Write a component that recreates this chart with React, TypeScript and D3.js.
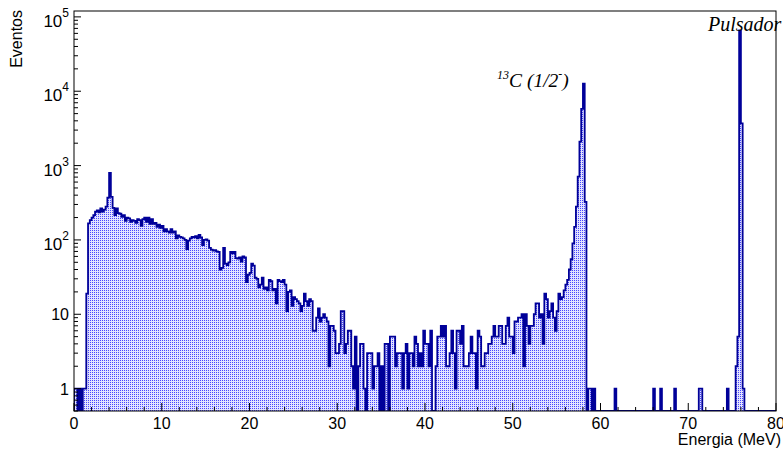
import React from "react";
import * as d3 from "d3";

// Histogram: 400 bins of 0.2 MeV from 0 to 80 MeV (counts per bin)
const binWidth = 0.2;
const counts0to10 = [
  1, 1, 0, 1, 0, 1, 1, 19, 167, 185,
  200, 215, 240, 250, 235, 265, 240, 255, 280, 370,
  800, 380, 270, 215, 265, 230, 225, 205, 215, 180,
  200, 195, 175, 185, 180, 170, 190, 185, 155, 190,
  200, 175, 200, 165, 190, 165, 170, 150, 160, 145,
];
const counts10to20 = [
  155, 130, 140, 130, 125, 140, 125, 130, 105, 115,
  110, 108, 105, 100, 75, 98, 105, 110, 108, 112,
  105, 117, 108, 85, 100, 102, 98, 78, 74, 72,
  73, 70, 69, 40, 42, 78, 48, 46, 50, 69,
  66, 69, 57, 56, 58, 51, 60, 58, 27, 34,
];
const counts20to30 = [
  36, 48, 45, 31, 30, 23, 25, 31, 22, 23,
  21, 29, 28, 21, 22, 14, 29, 28, 27, 29,
  25, 11, 20, 21, 13, 17, 16, 15, 14, 11,
  13, 19, 15, 13, 16, 15, 6, 6, 9, 12,
  8, 9, 10, 9, 8, 2, 7, 7, 6, 3,
];
const counts30to40 = [
  3, 4, 11, 11, 3, 4, 6, 6, 2, 1,
  5, 0, 2, 4, 4, 1, 0, 3, 3, 3,
  1, 2, 2, 3, 0, 2, 0, 4, 4, 0,
  5, 5, 5, 2, 3, 3, 3, 1, 3, 4,
  1, 3, 3, 2, 5, 4, 2, 3, 2, 6,
];
const counts40to50 = [
  4, 4, 2, 6, 0, 0, 2, 5, 5, 7,
  5, 7, 2, 2, 3, 6, 3, 1, 6, 6,
  4, 7, 2, 2, 2, 3, 5, 3, 3, 1,
  6, 5, 2, 2, 3, 3, 4, 4, 5, 7,
  5, 5, 7, 7, 4, 4, 7, 9, 5, 5,
];
const counts50to60 = [
  3, 8, 8, 9, 9, 10, 2, 10, 7, 4,
  7, 7, 10, 14, 14, 9, 10, 4, 19, 16,
  9, 11, 14, 9, 6, 11, 19, 16, 17, 21,
  25, 29, 40, 55, 90, 150, 280, 710, 2100, 5800,
  12600, 325, 0, 1, 1, 0, 1, 0, 0, 0,
];
const counts60to70 = [
  0, 0, 0, 0, 0, 0, 0, 0, 1, 0,
  0, 0, 0, 0, 0, 0, 0, 0, 0, 0,
  0, 0, 0, 0, 0, 0, 0, 0, 0, 0,
  1, 0, 0, 0, 1, 0, 0, 0, 0, 0,
  0, 0, 1, 0, 0, 0, 0, 0, 0, 0,
];
const counts70to80 = [
  0, 0, 0, 0, 0, 0, 1, 1, 0, 0,
  0, 0, 0, 0, 0, 0, 0, 0, 0, 0,
  0, 0, 1, 0, 0, 0, 0, 2, 5, 66000,
  3700, 1, 0, 0, 0, 0, 0, 0, 0, 0,
  0, 0, 0, 0, 0, 0, 0, 0, 0, 0,
];
const counts = [
  ...counts0to10, ...counts10to20, ...counts20to30, ...counts30to40,
  ...counts40to50, ...counts50to60, ...counts60to70, ...counts70to80,
];

const xTickValues = [0, 10, 20, 30, 40, 50, 60, 70, 80];
const yDecades = [0, 1, 2, 3, 4, 5];

const W = 783;
const H = 449;
const M = { left: 74, right: 776, top: 11, bottom: 411 };
const YMIN = 0.5;
const YMAX = 1.2e5;

export default function App() {
  const x = d3.scaleLinear().domain([0, 80]).range([M.left, M.right]);
  const y = d3.scaleLog().domain([YMIN, YMAX]).range([M.bottom, M.top]).clamp(true);
  const yv = (v: number) => y(v <= 0 ? YMIN : v);

  const pts = counts.map((c, i) => ({ e: i * binWidth, c }));
  pts.push({ e: counts.length * binWidth, c: counts[counts.length - 1] });

  const area = d3
    .area<{ e: number; c: number }>()
    .x((d) => x(d.e))
    .y0(M.bottom)
    .y1((d) => yv(d.c))
    .curve(d3.curveStepAfter);

  const line = d3
    .line<{ e: number; c: number }>()
    .x((d) => x(d.e))
    .y((d) => yv(d.c))
    .curve(d3.curveStepAfter);

  const outline =
    `M${x(0)},${M.bottom}L` + (line(pts) || "").slice(1) + `L${x(80)},${M.bottom}`;

  const minorX = d3.range(0, 81, 2).filter((v) => v % 10 !== 0);
  const minorY: number[] = [];
  for (let d = -1; d <= 5; d++) {
    for (let k = 2; k <= 9; k++) {
      const v = k * Math.pow(10, d);
      if (v >= YMIN && v <= YMAX) minorY.push(v);
    }
  }

  const font = "'Liberation Sans', Arial, Helvetica, sans-serif";
  const serif = "'Liberation Serif', 'Times New Roman', Times, serif";

  return (
    <svg
      width={W}
      height={H}
      style={{ position: "absolute", left: 0, top: 0, background: "#fff" }}
    >
      <defs>
        <pattern id="dots" width={2} height={2} patternUnits="userSpaceOnUse">
          <rect width={2} height={2} fill="#e2e2ff" />
          <rect width={1} height={1} fill="#4646ff" />
        </pattern>
        <clipPath id="frame">
          <rect x={M.left} y={M.top} width={M.right - M.left} height={M.bottom - M.top} />
        </clipPath>
      </defs>
      <rect x={0} y={0} width={W} height={H} fill="#fff" />
      <g clipPath="url(#frame)">
        <path d={area(pts) || ""} fill="url(#dots)" shapeRendering="crispEdges" />
        <path d={outline} fill="none" stroke="#000099" strokeWidth={1.8} />
      </g>
      <rect
        x={M.left}
        y={M.top}
        width={M.right - M.left}
        height={M.bottom - M.top}
        fill="none"
        stroke="#000"
        strokeWidth={1}
      />
      {/* x axis ticks */}
      {xTickValues.map((v) => (
        <line key={"xt" + v} x1={x(v)} x2={x(v)} y1={M.bottom} y2={M.bottom - 8} stroke="#000" />
      ))}
      {minorX.map((v) => (
        <line key={"xm" + v} x1={x(v)} x2={x(v)} y1={M.bottom} y2={M.bottom - 4} stroke="#000" />
      ))}
      {xTickValues.map((v) => (
        <text
          key={"xl" + v}
          x={x(v)}
          y={429}
          textAnchor="middle"
          fontFamily={font}
          fontSize={16}
          fill="#000"
        >
          {v}
        </text>
      ))}
      {/* y axis ticks */}
      {yDecades.map((d) => (
        <line
          key={"yt" + d}
          x1={M.left}
          x2={M.left + 7}
          y1={y(Math.pow(10, d))}
          y2={y(Math.pow(10, d))}
          stroke="#000"
        />
      ))}
      {minorY.map((v) => (
        <line key={"ym" + v} x1={M.left} x2={M.left + 4} y1={y(v)} y2={y(v)} stroke="#000" />
      ))}
      {yDecades.map((d) => {
        const ty = y(Math.pow(10, d));
        if (d <= 1) {
          return (
            <text
              key={"yl" + d}
              x={69}
              y={ty + 6}
              textAnchor="end"
              fontFamily={font}
              fontSize={16}
              fill="#000"
            >
              {d === 0 ? "1" : "10"}
            </text>
          );
        }
        return (
          <text
            key={"yl" + d}
            x={69}
            y={ty + 10}
            textAnchor="end"
            fontFamily={font}
            fontSize={17}
            fill="#000"
          >
            10
            <tspan dy={-10} fontSize={12}>
              {d}
            </tspan>
          </text>
        );
      })}
      <text
        x={781}
        y={445}
        textAnchor="end"
        fontFamily={font}
        fontSize={16}
        fill="#000"
      >
        Energia (MeV)
      </text>
      <text
        transform="translate(22,10) rotate(-90)"
        textAnchor="end"
        fontFamily={font}
        fontSize={16}
        fill="#000"
      >
        Eventos
      </text>
      <text x={708} y={31} fontFamily={serif} fontStyle="italic" fontSize={20} fill="#000">
        Pulsador
      </text>
      <text x={497} y={87} fontFamily={serif} fontStyle="italic" fontSize={19.5} fill="#000">
        <tspan fontSize={12} dy={-8}>
          13
        </tspan>
        <tspan dy={8}>C (1/2</tspan>
        <tspan fontSize={12} dy={-9}>
          -
        </tspan>
        <tspan dy={9}>)</tspan>
      </text>
    </svg>
  );
}
